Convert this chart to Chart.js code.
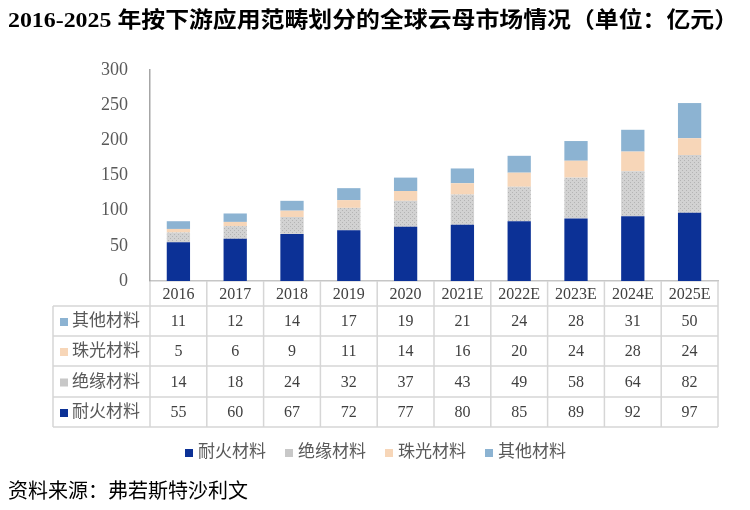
<!DOCTYPE html>
<html lang="zh">
<head>
    <meta charset="UTF-8">
    <title>全球云母市场情况</title>
    <script src="https://cdn.jsdelivr.net/npm/chart.js"></script>
    <style>
        body {
            margin: 0;
            background-color: #ffffff;
        }
        .chart-container {
            width: 750px;
            height: 510px;
        }
    </style>
</head>
<body>
    <div class="chart-container">
        <canvas id="micaChart"></canvas>
    </div>

    <script>
        // data
        const years = ["2016", "2017", "2018", "2019", "2020", "2021E", "2022E", "2023E", "2024E", "2025E"];
        const naihuo = [55, 60, 67, 72, 77, 80, 85, 89, 92, 97];     // 耐火材料
        const jueyuan = [14, 18, 24, 32, 37, 43, 49, 58, 64, 82];    // 绝缘材料
        const zhuguang = [5, 6, 9, 11, 14, 16, 20, 24, 28, 24];      // 珠光材料
        const qita = [11, 12, 14, 17, 19, 21, 24, 28, 31, 50];       // 其他材料
        const yTicks = [0, 50, 100, 150, 200, 250, 300];

        const titleText = "2016-2025 年按下游应用范畴划分的全球云母市场情况（单位：亿元）";
        const sourceText = "资料来源：弗若斯特沙利文";

        const serif = '"Liberation Serif", "Noto Sans CJK SC", serif';

        // dotted grey fill like the original
        function dotPattern() {
            const c = document.createElement("canvas");
            c.width = 4;
            c.height = 4;
            const g = c.getContext("2d");
            g.fillStyle = "#d2d2d2";
            g.fillRect(0, 0, 4, 4);
            g.fillStyle = "#b4b4b4";
            g.fillRect(0, 0, 1, 1);
            g.fillRect(2, 2, 1, 1);
            return g.createPattern(c, "repeat");
        }

        // title, data table, legend and source line
        const extrasPlugin = {
            id: "extras",
            afterDraw(chart) {
                const ctx = chart.ctx;
                const area = chart.chartArea;
                const xs = chart.scales.x;
                const ds = chart.data.datasets;
                const colW = (area.right - area.left) / years.length;
                const tableLeft = 53;
                const headTop = area.bottom;
                const rowTops = [306, 336, 366, 397, 427];

                ctx.save();

                // title, stretched to the full width like the picture
                ctx.font = "bold 22px " + serif;
                ctx.fillStyle = "#000000";
                ctx.textBaseline = "middle";
                ctx.textAlign = "left";
                const tw = ctx.measureText(titleText).width;
                ctx.save();
                ctx.translate(8, 21);
                ctx.scale(730 / tw, 1);
                ctx.fillText(titleText, 0, 0);
                ctx.restore();

                // table grid
                ctx.strokeStyle = "#d6d6d6";
                ctx.lineWidth = 1.5;
                ctx.beginPath();
                rowTops.forEach((y) => {
                    ctx.moveTo(tableLeft, y);
                    ctx.lineTo(area.right, y);
                });
                ctx.moveTo(tableLeft, rowTops[0]);
                ctx.lineTo(tableLeft, rowTops[4]);
                for (let i = 0; i <= years.length; i++) {
                    const x = area.left + i * colW;
                    ctx.moveTo(x, headTop);
                    ctx.lineTo(x, rowTops[4]);
                }
                ctx.stroke();

                // year header
                ctx.font = "16px " + serif;
                ctx.fillStyle = "#404040";
                ctx.textAlign = "center";
                years.forEach((y, i) => {
                    ctx.fillText(y, xs.getPixelForValue(i), (headTop + rowTops[0]) / 2 + 1);
                });

                // rows: top row is the last dataset
                const order = [3, 2, 1, 0];
                order.forEach((di, r) => {
                    const cy = (rowTops[r] + rowTops[r + 1]) / 2 + 1;
                    const d = ds[di];
                    ctx.fillStyle = d.legendColor;
                    ctx.fillRect(60, cy - 4, 8, 8);
                    ctx.font = "17px " + serif;
                    ctx.fillStyle = "#595959";
                    ctx.textAlign = "left";
                    ctx.fillText(d.label, 72, cy);
                    ctx.font = "16px " + serif;
                    ctx.fillStyle = "#404040";
                    ctx.textAlign = "center";
                    d.data.forEach((v, i) => {
                        ctx.fillText(String(v), xs.getPixelForValue(i), cy);
                    });
                });

                // legend under the table
                let lx = 185;
                const ly = 453;
                ctx.font = "17px " + serif;
                ctx.textAlign = "left";
                ds.forEach((d) => {
                    ctx.fillStyle = d.legendColor;
                    ctx.fillRect(lx, ly - 4, 8, 8);
                    ctx.fillStyle = "#595959";
                    ctx.fillText(d.label, lx + 13, ly);
                    lx += 13 + ctx.measureText(d.label).width + 19;
                });

                // source line
                ctx.font = "20px " + serif;
                ctx.fillStyle = "#000000";
                ctx.fillText(sourceText, 8, 493);

                ctx.restore();
            }
        };

        document.addEventListener("DOMContentLoaded", function () {
            const ctx = document.getElementById("micaChart").getContext("2d");
            new Chart(ctx, {
                type: "bar",
                data: {
                    labels: years,
                    datasets: [
                        { label: "耐火材料", data: naihuo, backgroundColor: "#0c3196", legendColor: "#0c3196" },
                        { label: "绝缘材料", data: jueyuan, backgroundColor: dotPattern(), legendColor: "#c8c8c8" },
                        { label: "珠光材料", data: zhuguang, backgroundColor: "#f7d6b8", legendColor: "#f7d6b8" },
                        { label: "其他材料", data: qita, backgroundColor: "#8cb3d2", legendColor: "#8cb3d2" }
                    ]
                },
                options: {
                    responsive: true,
                    maintainAspectRatio: false,
                    animation: false,
                    barPercentage: 0.41,
                    categoryPercentage: 1,
                    layout: {
                        padding: { top: 70, right: 32, bottom: 229, left: 0 }
                    },
                    plugins: {
                        legend: { display: false },
                        tooltip: { enabled: false }
                    },
                    scales: {
                        x: {
                            stacked: true,
                            grid: { display: false },
                            border: { color: "#c6c6c6", width: 1.5 },
                            ticks: { display: false },
                            afterFit: (scale) => { scale.height = 0; }
                        },
                        y: {
                            stacked: true,
                            min: 0,
                            max: 300,
                            afterBuildTicks: (scale) => {
                                scale.ticks = yTicks.map((v) => ({ value: v }));
                            },
                            grid: { display: false },
                            border: { color: "#a6a6a6", width: 1.5 },
                            ticks: {
                                padding: 14,
                                color: "#595959",
                                font: { family: serif, size: 18 }
                            },
                            afterFit: (scale) => { scale.width = 150; }
                        }
                    }
                },
                plugins: [extrasPlugin]
            });
        });
    </script>
</body>
</html>
